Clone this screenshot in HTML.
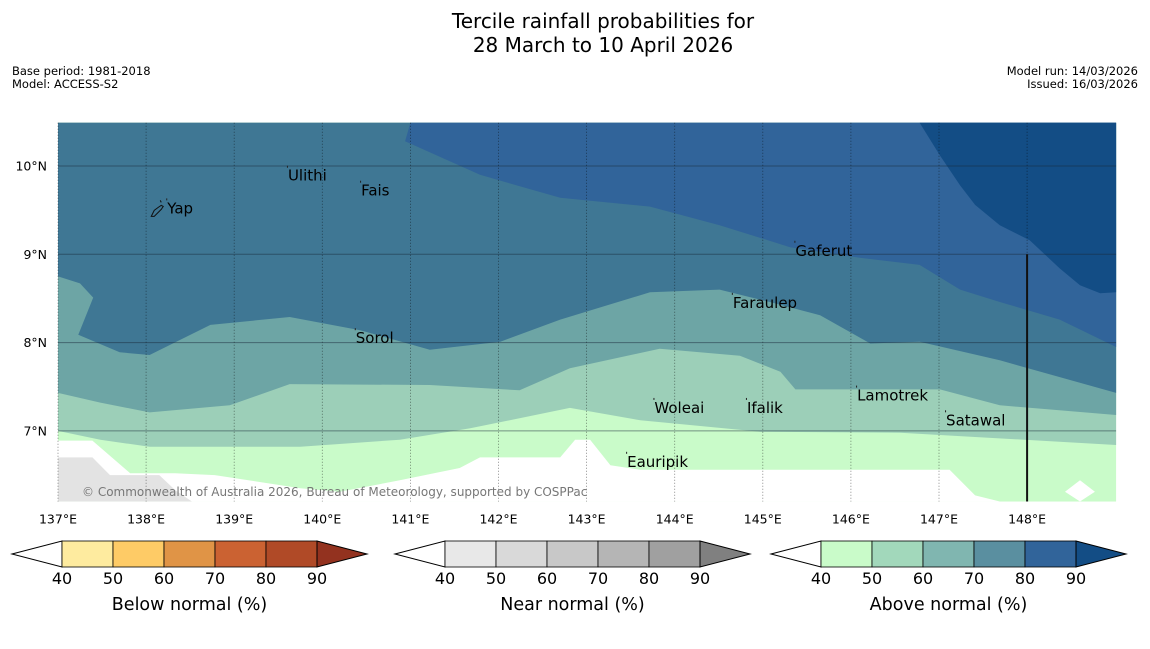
<!DOCTYPE html>
<html><head><meta charset="utf-8">
<style>
body{margin:0;background:#fff;font-family:"Liberation Sans","DejaVu Sans",sans-serif;}
svg text{font-family:"DejaVu Sans","Liberation Sans",sans-serif;}
</style></head>
<body>
<svg id="c" width="1150" height="644" xmlns="http://www.w3.org/2000/svg">
<text x="603" y="28" font-size="20" text-anchor="middle">Tercile rainfall probabilities for</text>
<text x="603" y="52" font-size="20" text-anchor="middle">28 March to 10 April 2026</text>
<text x="12" y="75" font-size="11.5">Base period: 1981-2018</text>
<text x="12" y="88" font-size="11.5">Model: ACCESS-S2</text>
<text x="1138" y="75" font-size="11.5" text-anchor="end">Model run: 14/03/2026</text>
<text x="1138" y="88" font-size="11.5" text-anchor="end">Issued: 16/03/2026</text>
<g id="map"></g>
<g id="cbars"></g>
</svg>
<script>
const lonMin=137, lonMax=149.01, latMin=6.2, latMax=10.49;
const X0=58, PXD=88.1, Y10=166, PYD=88.3;
function xs(lon){return X0+(lon-lonMin)*PXD;}
function ys(lat){return Y10-(lat-10)*PYD;}

const lonTicks=[137,138,139,140,141,142,143,144,145,146,147,148];
const latTicks=[7,8,9,10];
const paleBottom=[[137,6.89],[137.39,6.89],[137.82,6.52],[138.33,6.52],[138.78,6.50],[139.75,6.35],[140.20,6.31],[140.88,6.44],[141.56,6.58],[141.79,6.70],[142.70,6.70],[142.87,6.90],[143.04,6.90],[143.27,6.61],[143.61,6.56],[146.56,6.56],[147.12,6.56],[147.41,6.27],[147.69,6.20]];
const greenTop=[[137,7.00],[137.48,6.90],[138.04,6.82],[139.75,6.82],[140.88,6.90],[141.68,7.03],[142.81,7.26],[143.61,7.12],[144.97,6.99],[146.56,6.98],[149.01,6.84]];
const tealTop=[[137,7.43],[137.48,7.32],[138.04,7.21],[138.95,7.29],[139.63,7.53],[141.22,7.52],[142.24,7.46],[142.81,7.71],[143.83,7.93],[144.74,7.85],[145.20,7.67],[145.37,7.47],[147.01,7.47],[147.69,7.29],[149.01,7.18]];
const steelTop=[[137,8.75],[137.25,8.67],[137.40,8.51],[137.23,8.09],[137.70,7.89],[138.04,7.86],[138.73,8.20],[139.63,8.29],[140.43,8.14],[141.22,7.92],[142.02,8.01],[142.70,8.26],[143.72,8.57],[144.51,8.60],[145.08,8.46],[145.65,8.31],[146.22,7.99],[146.78,8.01],[147.69,7.80],[149.01,7.43]];
const blueTop=[[141.00,10.49],[140.94,10.28],[141.79,9.90],[142.70,9.64],[143.72,9.54],[144.51,9.33],[145.31,9.08],[146.10,8.96],[146.78,8.88],[147.24,8.60],[147.69,8.46],[148.37,8.26],[149.01,7.95]];
const darkTop=[[146.78,10.49],[147.01,10.12],[147.24,9.78],[147.41,9.56],[147.69,9.33],[148.03,9.16],[148.37,8.84],[148.60,8.65],[148.83,8.56],[149.01,8.57]];
const landPatch=[[137,6.70],[137.39,6.70],[137.59,6.50],[138.15,6.50],[138.33,6.33],[138.52,6.20],[137,6.20]];
const whiteDiamond=[[148.43,6.31],[148.60,6.44],[148.77,6.31],[148.60,6.20]];
const islands=[["Yap",138.24,9.52],["Ulithi",139.61,9.89],["Fais",140.44,9.72],["Gaferut",145.37,9.04],["Faraulep",144.66,8.45],["Sorol",140.38,8.05],["Lamotrek",146.07,7.40],["Satawal",147.08,7.12],["Woleai",143.77,7.26],["Ifalik",144.82,7.26],["Eauripik",143.46,6.65]];

const NS="http://www.w3.org/2000/svg";
function el(tag,attrs,parent){const e=document.createElementNS(NS,tag);for(const k in attrs)e.setAttribute(k,attrs[k]);parent.appendChild(e);return e;}
const map=document.getElementById('map');
const L=xs(lonMin),R=xs(lonMax),T=ys(latMax),B=ys(latMin);
function pts(a){return a.map(p=>xs(p[0]).toFixed(1)+','+ys(p[1]).toFixed(1)).join(' ');}
let bg=el('rect',{x:L,y:T,width:R-L,height:B-T,fill:'#c9fbc9'},map);


let wh=el('polygon',{points:pts(paleBottom)+' '+xs(147.69)+','+B+' '+L+','+B,fill:'#ffffff'},map);


let wd=el('polygon',{points:pts(whiteDiamond),fill:'#ffffff'},map);


let ld=el('polygon',{points:pts(landPatch),fill:'#e3e3e3'},map);


function topBand(arr,color,name){
  const p=pts(arr)+' '+R+','+T+' '+L+','+T;
  const e=el('polygon',{points:p,fill:color},map);
  
  
}
topBand(greenTop,'#9ccfb8','band-50-60');
topBand(tealTop,'#6da5a5','band-60-70');
topBand(steelTop,'#3f7794','band-70-80');
{const e=el('polygon',{points:pts(blueTop)+' '+R+','+T,fill:'#31649a'},map);

}
{const e=el('polygon',{points:pts(darkTop)+' '+R+','+T,fill:'#134d85'},map);

}
lonTicks.forEach(v=>{
  const g=el('line',{x1:xs(v),x2:xs(v),y1:T,y2:B,stroke:'#000','stroke-opacity':0.55,'stroke-width':0.8,'stroke-dasharray':'1,2'},map);
  
  
  const t=el('text',{x:xs(v),y:B+22,'font-size':12.5,'text-anchor':'middle'},map);t.textContent=v+'°E';
  
  
});
latTicks.forEach(v=>{
  const g=el('line',{x1:L,x2:R,y1:ys(v),y2:ys(v),stroke:'#1a2a3a','stroke-opacity':0.5,'stroke-width':1},map);
  
  
  const t=el('text',{x:L-11,y:ys(v)+4.5,'font-size':12.5,'text-anchor':'end'},map);t.textContent=v+'°N';
  
  
});
{const e=el('line',{x1:xs(148),x2:xs(148),y1:ys(9),y2:B,stroke:'#111','stroke-width':2},map);

}
{const yx=xs(138.24),yy=ys(9.52);
const e=el('path',{d:'M'+(yx-16)+','+(yy+8)+' l3,-6 l4,-3 l3,-2 l2,1 l-2,3 l-4,4 l-3,3 z M'+(yx-7)+','+(yy-8)+' l1,2',fill:'none',stroke:'#111','stroke-width':1},map);

}
islands.forEach(d=>{
  const x=xs(d[1]),y=ys(d[2]);
  const dot=el('rect',{x:x-1,y:y-10,width:1,height:2,fill:'#222'},map);
  
  
  const t=el('text',{x:x,y:y+5,'font-size':15,fill:'#000'},map);t.textContent=d[0];
  
  
});
{const t=el('text',{x:82,y:496,'font-size':12,fill:'#777'},map);t.textContent='© Commonwealth of Australia 2026, Bureau of Meteorology, supported by COSPPac';

}

const cbTicks=[40,50,60,70,80,90];
const cbBelow=['#feeb9f','#fecb66','#e09446','#cb6232','#b04a27','#93321f'];
const cbNear=['#e8e8e8','#d9d9d9','#c8c8c8','#b5b5b5','#a0a0a0','#808080'];
const cbAbove=['#c9fbc9','#a2d8bb','#80b6b0','#5a8fa0','#31649a','#134d85'];
const cb=document.getElementById('cbars');
function colorbar(x0,cols,label,name){
  const w=51,y0=541,h=26,g=el('g',{},cb);
  
  
  const s=x0+50;
  let a=el('polygon',{points:x0+','+(y0+h/2)+' '+s+','+y0+' '+s+','+(y0+h),fill:'#fff',stroke:'#000','stroke-width':1},g);
  
  
  for(let i=0;i<5;i++){
    const r=el('rect',{x:s+i*w,y:y0,width:w,height:h,fill:cols[i],stroke:'#000','stroke-width':0.8},g);
    
    
  }
  const e=s+5*w;
  let b=el('polygon',{points:e+','+y0+' '+(e+50)+','+(y0+h/2)+' '+e+','+(y0+h),fill:cols[5],stroke:'#000','stroke-width':1},g);
  
  
  cbTicks.forEach((v,i)=>{const t=el('text',{x:s+i*w,y:584,'font-size':16,'text-anchor':'middle'},g);t.textContent=v;
    
    });
  const t=el('text',{x:s+2.5*w,y:610,'font-size':17.5,'text-anchor':'middle'},g);t.textContent=label;
  
  
}
colorbar(12,cbBelow,'Below normal (%)','colorbar-below');
colorbar(395,cbNear,'Near normal (%)','colorbar-near');
colorbar(771,cbAbove,'Above normal (%)','colorbar-above');
</script>
</body></html>
